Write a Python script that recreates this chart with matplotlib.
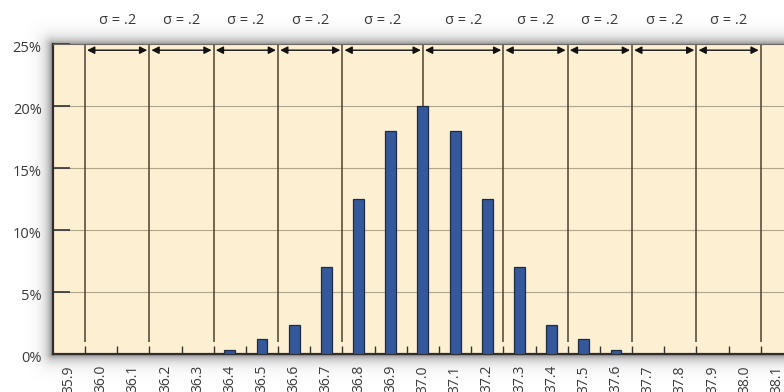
import numpy as np
import matplotlib.pyplot as plt
from matplotlib.transforms import ScaledTranslation

# temperature categories (x axis) and percentage of readings
temps = ["35.9", "36.0", "36.1", "36.2", "36.3", "36.4", "36.5", "36.6",
         "36.7", "36.8", "36.9", "37.0", "37.1", "37.2", "37.3", "37.4",
         "37.5", "37.6", "37.7", "37.8", "37.9", "38.0", "38.1"]
percent = [0, 0, 0, 0, 0, 0.3, 1.2, 2.3, 7.0, 12.5, 18.0, 20.0, 18.0,
           12.5, 7.0, 2.3, 1.2, 0.3, 0, 0, 0, 0, 0]

# sigma interval boundaries (in degrees) and their labels
bounds = [35.95, 36.15, 36.35, 36.55, 36.75, 37.0, 37.25, 37.45, 37.65, 37.85, 38.05]
sigma_labels = ["σ = .2"] * 10

y_ticks = [0, 5, 10, 15, 20, 25]
y_labels = ["0%", "5%", "10%", "15%", "20%", "25%"]

plt.rcParams['font.family'] = ['Open Sans', 'DejaVu Sans']
FS = 10.5
TXT = '#3a3a3a'

W, H, DPI = 784, 392, 100
fig = plt.figure(figsize=(W / DPI, H / DPI), dpi=DPI)
fig.patch.set_facecolor('white')

# axes box in pixels (top-left origin)
x0, x1, ytop, ybot = 52.8, 793.0, 44.0, 354.0
ax_rect = [x0 / W, (H - ybot) / H, (x1 - x0) / W, (ybot - ytop) / H]

# soft drop shadow around the plot box
bg = fig.add_axes([0, 0, 1, 1], zorder=-1)
xx, yy = np.meshgrid(np.arange(W) + 0.5, np.arange(H) + 0.5)
dx = np.maximum(np.maximum(x0 - xx, xx - x1), 0)
dy = np.maximum(np.maximum(ytop + 1 - yy, yy - ybot), 0)
d = np.hypot(dx, dy)
alpha = 0.7 * np.exp(-d / 6.0)
img = np.zeros((H, W, 4))
img[..., 0:3] = 0.3
img[..., 3] = alpha
bg.imshow(img, extent=[0, W, H, 0], aspect='auto', interpolation='bilinear')
bg.set_xlim(0, W)
bg.set_ylim(H, 0)
bg.axis('off')

ax = fig.add_axes(ax_rect)
ax.set_facecolor('#fdefd1')

idx = np.arange(len(temps))
ax.set_xlim(-0.5, len(temps) - 0.5)
ax.set_ylim(0, 25)

# horizontal gridlines
for y in y_ticks[1:-1]:
    ax.axhline(y, color='#b0a68c', lw=0.8, zorder=1)

# sigma boundary lines
bpos = [(b - 35.9) / 0.1 for b in bounds]
ax.vlines(bpos, 0.97, 25, color='#4a4434', lw=1.1, zorder=2)

# bars
bx = [i for i, v in zip(idx, percent) if v > 0]
bv = [v for v in percent if v > 0]
ax.bar(bx, bv, width=0.34, color='#34589a', edgecolor='#1e2c48', lw=0.9, zorder=3)

# double arrows between boundaries
for a, b in zip(bpos[:-1], bpos[1:]):
    ax.annotate('', xy=(b, 24.5), xytext=(a, 24.5),
                arrowprops=dict(arrowstyle='<|-|>', color='#111111', lw=1.0,
                                mutation_scale=11, shrinkA=1.5, shrinkB=1.5),
                zorder=4)

# sigma labels above the plot
for (a, b), lab in zip(zip(bpos[:-1], bpos[1:]), sigma_labels):
    xc = (a + b) / 2
    xfig = (x0 + (xc + 0.5) / len(temps) * (x1 - x0)) / W
    fig.text(xfig, 1 - 20 / H, lab, ha='center', va='center',
             fontsize=FS, color=TXT)

# x ticks: marks at category boundaries, labels at centres
ax.set_xticks(idx)
ax.set_xticklabels(temps, rotation=90, fontsize=10, color=TXT)
ax.tick_params(axis='x', which='major', length=0, pad=8)
ax.set_xticks(idx[:-1] + 0.5, minor=True)
ax.tick_params(axis='x', which='minor', direction='in', length=6,
               width=1.0, color='#333333')

ax.set_yticks(y_ticks)
ax.set_yticklabels(y_labels, fontsize=FS, color=TXT)
ax.tick_params(axis='y', direction='in', length=12, width=1.2,
               color='#333333', pad=8)
# nudge y labels slightly down like the original
shift = ScaledTranslation(0, -2 / DPI, fig.dpi_scale_trans)
for lab in ax.get_yticklabels():
    lab.set_transform(lab.get_transform() + shift)

for side in ['left', 'bottom']:
    ax.spines[side].set_color('#2e2e2e')
    ax.spines[side].set_linewidth(1.6)
ax.spines['top'].set_color('#6e6a62')
ax.spines['top'].set_linewidth(0.8)
ax.spines['right'].set_visible(False)

plt.savefig('out.png', dpi=DPI)
